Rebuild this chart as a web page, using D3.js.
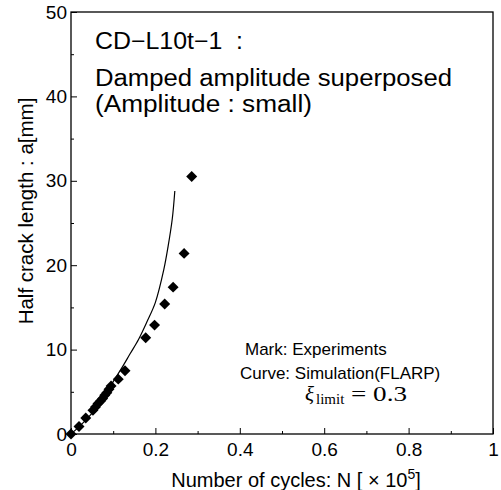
<!DOCTYPE html>
<html>
<head>
<meta charset="utf-8">
<script src="https://cdn.jsdelivr.net/npm/d3@7"></script>
<style>
  body { margin: 0; background: #fff; }
  text { font-family: "Liberation Sans", Arial, sans-serif; fill: #000; }
</style>
</head>
<body>
<div id="container"></div>
<script>
// experiments (marks): N [x10^5], a [mm]
const expN = [0, 0.019, 0.035, 0.052, 0.058, 0.064, 0.07, 0.075, 0.08, 0.085, 0.09, 0.095, 0.112, 0.128, 0.177, 0.198, 0.222, 0.242, 0.268, 0.286];
const expA = [0, 0.9, 1.9, 2.8, 3.2, 3.6, 3.9, 4.2, 4.6, 4.9, 5.3, 5.7, 6.5, 7.5, 11.4, 12.9, 15.4, 17.4, 21.4, 30.5];

// simulation curve (FLARP)
const simN = [0, 0.02, 0.04, 0.06, 0.08, 0.10, 0.12, 0.14, 0.16, 0.18, 0.20, 0.22, 0.23, 0.24, 0.246];
const simA = [0, 0.9, 1.9, 3.1, 4.6, 6.2, 7.8, 9.5, 11.2, 13.3, 15.6, 19.5, 22.2, 25.5, 28.8];

const xTicks = [0, 0.2, 0.4, 0.6, 0.8, 1];
const xMinor = [0.1, 0.3, 0.5, 0.7, 0.9];
const yTicks = [0, 10, 20, 30, 40, 50];
const yMinor = [5, 15, 25, 35, 45];

const width = 501, height = 490;
const margin = {left: 71, top: 12, right: 8, bottom: 56};

const svg = d3.select("#container").append("svg")
    .attr("width", width)
    .attr("height", height);

const x = d3.scaleLinear().domain([0, 1]).range([margin.left, width - margin.right]);
const y = d3.scaleLinear().domain([0, 50]).range([height - margin.bottom, margin.top]);

// frame
svg.append("rect")
    .attr("x", x(0))
    .attr("y", y(50))
    .attr("width", x(1) - x(0))
    .attr("height", y(0) - y(50))
    .attr("fill", "none")
    .attr("stroke", "#000")
    .attr("stroke-width", 1.3);

// x axis, ticks pointing inward
const xAxis = svg.append("g")
    .attr("transform", `translate(0,${y(0)})`)
    .call(d3.axisBottom(x).tickValues(xTicks).tickSizeInner(-6).tickSizeOuter(0)
        .tickFormat(d => d === 0 || d === 1 ? d : d3.format(".1f")(d)));
xAxis.select(".domain").remove();
xAxis.selectAll("text")
    .attr("y", 9)
    .attr("font-size", 19)
    .attr("font-family", "Liberation Sans, Arial, sans-serif");

svg.append("g")
    .attr("transform", `translate(0,${y(0)})`)
    .call(d3.axisBottom(x).tickValues(xMinor).tickSizeInner(-3).tickSizeOuter(0).tickFormat(""))
    .select(".domain").remove();

// y axis
const yAxis = svg.append("g")
    .attr("transform", `translate(${x(0)},0)`)
    .call(d3.axisLeft(y).tickValues(yTicks).tickSizeInner(-6).tickSizeOuter(0));
yAxis.select(".domain").remove();
yAxis.selectAll("text")
    .attr("x", -4)
    .attr("font-size", 19)
    .attr("font-family", "Liberation Sans, Arial, sans-serif");

svg.append("g")
    .attr("transform", `translate(${x(0)},0)`)
    .call(d3.axisLeft(y).tickValues(yMinor).tickSizeInner(-3).tickSizeOuter(0).tickFormat(""))
    .select(".domain").remove();

svg.selectAll(".tick line").attr("stroke", "#000");

// simulation curve
const simData = simN.map((n, i) => [n, simA[i]]);
svg.append("path")
    .datum(simData)
    .attr("fill", "none")
    .attr("stroke", "#000")
    .attr("stroke-width", 1.2)
    .attr("d", d3.line().x(d => x(d[0])).y(d => y(d[1])).curve(d3.curveCatmullRom));

// experiment marks (diamonds)
const expData = expN.map((n, i) => [n, expA[i]]);
svg.append("g").selectAll("path")
    .data(expData)
    .join("path")
    .attr("d", d3.symbol(d3.symbolSquare, 60))
    .attr("transform", d => `translate(${x(d[0])},${y(d[1])}) rotate(45)`)
    .attr("fill", "#000");

// annotations (the original text is a bit wide, so stretch it)
const title = svg.append("g").attr("font-size", 23);
title.append("text").attr("x", 95).attr("y", 49)
    .attr("textLength", 148).attr("lengthAdjust", "spacingAndGlyphs")
    .attr("xml:space", "preserve").text("CD\u2212L10t\u22121  :");
title.append("text").attr("x", 95).attr("y", 86)
    .attr("textLength", 357).attr("lengthAdjust", "spacingAndGlyphs")
    .text("Damped amplitude superposed");
title.append("text").attr("x", 95).attr("y", 112)
    .attr("textLength", 217).attr("lengthAdjust", "spacingAndGlyphs")
    .text("(Amplitude : small)");

svg.append("text").attr("x", 245).attr("y", 355).attr("font-size", 17).text("Mark: Experiments");
svg.append("text").attr("x", 240).attr("y", 379).attr("font-size", 17).text("Curve: Simulation(FLARP)");

const serif = "'Liberation Serif', 'Times New Roman', serif";
svg.append("text").attr("x", 305).attr("y", 401).attr("font-size", 21).attr("font-style", "italic")
    .style("font-family", serif).text("\u03BE");
svg.append("text").attr("x", 316).attr("y", 404).attr("font-size", 15)
    .style("font-family", serif).text("limit");
svg.append("text").attr("x", 351).attr("y", 401).attr("font-size", 22)
    .style("font-family", serif).text("= 0.3")
    .attr("textLength", 56).attr("lengthAdjust", "spacingAndGlyphs");

// axis titles
const xt = svg.append("text")
    .attr("x", 296).attr("y", 487)
    .attr("text-anchor", "middle")
    .attr("font-size", 20);
xt.append("tspan").text("Number of cycles: N [ \u00D7 10");
xt.append("tspan").attr("dy", -8).attr("font-size", 14).text("5");
xt.append("tspan").attr("dy", 8).text("]");

svg.append("text")
    .attr("transform", "translate(33,211) rotate(-90)")
    .attr("text-anchor", "middle")
    .attr("font-size", 20.5)
    .text("Half crack length : a[mm]");
</script>
</body>
</html>
